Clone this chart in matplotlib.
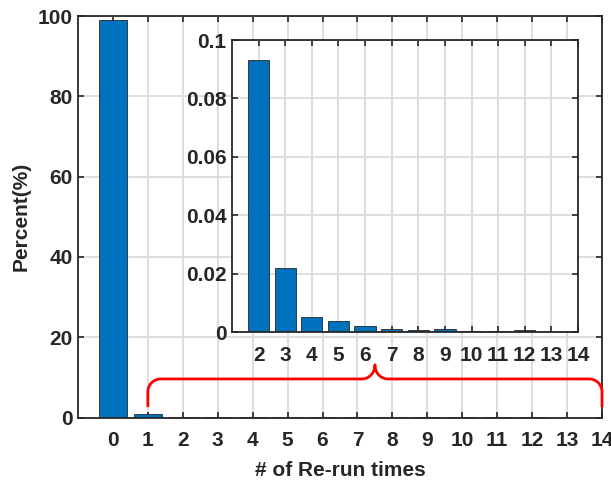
import matplotlib
matplotlib.use("Agg")
import matplotlib.pyplot as plt
import numpy as np

plt.rcParams['font.family'] = ['Liberation Sans', 'DejaVu Sans']
plt.rcParams['font.weight'] = 'bold'

# ---- data ----
rerun_times = list(range(0, 15))
percent = [98.9, 0.8, 0.0933, 0.022, 0.00525, 0.00388, 0.00205, 0.00103,
           0.0008, 0.001, 0.0003, 0.0005, 0.0008, 0.0, 0.0]
inset_times = list(range(2, 15))
inset_percent = percent[2:]
main_yticks = [0, 20, 40, 60, 80, 100]
inset_yticks = [0, 0.02, 0.04, 0.06, 0.08, 0.1]
inset_yticklabels = ['0', '0.02', '0.04', '0.06', '0.08', '0.1']
xlabel = '# of Re-run times'
ylabel = 'Percent(%)'

BAR = '#0072BD'
EDGE = '#262626'
TXT = '#262626'
GRID = '#dedede'

W, H = 611, 480
fig = plt.figure(figsize=(W / 100, H / 100), dpi=100)

def style(ax):
    ax.set_axisbelow(True)
    ax.grid(True, color=GRID, linewidth=1.4)
    for s in ax.spines.values():
        s.set_linewidth(1.3)
        s.set_color(EDGE)
    ax.tick_params(direction='in', length=4.5, width=1.2, color=EDGE,
                   top=True, right=True, labelsize=15, labelcolor=TXT)
    for lab in ax.get_xticklabels() + ax.get_yticklabels():
        lab.set_fontweight('bold')

# main axes
ax = fig.add_axes([78 / W, 1 - 417.5 / H, (602 - 78) / W, (417.5 - 16) / H])
ax.bar(rerun_times, percent, width=0.8, color=BAR, edgecolor=EDGE, linewidth=0.6)
ax.set_xlim(-1, 14)
ax.set_ylim(0, 100)
ax.set_xticks(rerun_times)
ax.set_yticks(main_yticks)
style(ax)
ax.tick_params(axis='x', pad=10)
ax.tick_params(axis='y', pad=4)
ax.set_xlabel(xlabel, fontsize=15, fontweight='bold', color=TXT, labelpad=8)
ax.set_ylabel(ylabel, fontsize=15, fontweight='bold', color=TXT, labelpad=5)

# curly brace from x=1 to x=14
x0, x1 = rerun_times[1], rerun_times[-1]
xm = (x0 + x1) / 2
y_end, y_line, y_tip = 2.6, 9.6, 13.1
rx, ry = 0.37, 3.2
rx2, ry2 = 0.37, y_tip - y_line

def arc(cx, cy, a, b, t0, t1, n=20):
    t = np.linspace(np.radians(t0), np.radians(t1), n)
    return list(zip(cx + a * np.cos(t), cy + b * np.sin(t)))

pts = [(x0, y_end), (x0, y_line - ry)]
pts += arc(x0 + rx, y_line - ry, rx, ry, 180, 90)
pts += [(xm - rx2, y_line)]
pts += arc(xm - rx2, y_line + ry2, rx2, ry2, -90, 0)
pts += arc(xm + rx2, y_line + ry2, rx2, ry2, 180, 270)
pts += [(x1 - rx, y_line)]
pts += arc(x1 - rx, y_line - ry, rx, ry, 90, 0)
pts += [(x1, y_end)]
xs, ys = zip(*pts)
ax.plot(xs, ys, color='red', linewidth=2, clip_on=False, zorder=5,
        solid_capstyle='butt', solid_joinstyle='round')

# inset axes
ins = fig.add_axes([232 / W, 1 - 332 / H, (578 - 232) / W, (332 - 40) / H])
ins.set_facecolor('white')
ins.bar(inset_times, inset_percent, width=0.8, color=BAR, edgecolor=EDGE, linewidth=0.6)
ins.set_xlim(1, 14)
ins.set_ylim(0, 0.1)
ins.set_xticks(inset_times)
ins.set_yticks(inset_yticks)
ins.set_yticklabels(inset_yticklabels)
style(ins)
ins.tick_params(axis='x', pad=10)
ins.tick_params(axis='y', pad=4)

fig.savefig('out.png', dpi=100)
